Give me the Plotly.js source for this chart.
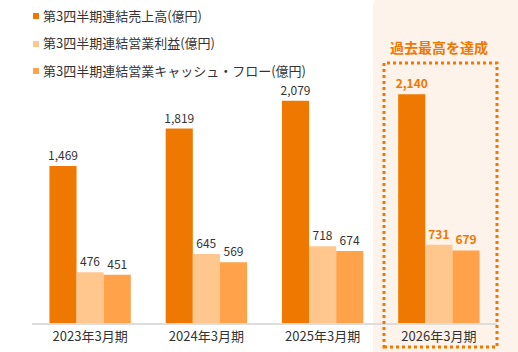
<!DOCTYPE html>
<html><head><meta charset="utf-8">
<script src="https://cdn.plot.ly/plotly-3.0.1.min.js"></script>
<style>html,body{margin:0;padding:0;background:#fff;}#chart{width:518px;height:352px;}</style>
</head><body><div id="chart"></div>
<script>
const categories = ['2023年3月期','2024年3月期','2025年3月期','2026年3月期'];
const seriesNames = ['第3四半期連結売上高(億円)','第3四半期連結営業利益(億円)','第3四半期連結営業キャッシュ・フロー(億円)'];
const sales = [1469, 1819, 2079, 2140];
const operatingProfit = [476, 645, 718, 731];
const operatingCashFlow = [451, 569, 674, 679];
const seriesColors = ['#EE7800','#FFC68E','#FFA24A'];
const highlightText = '過去最高を達成';

const FONT = '"Noto Sans CJK JP", "Noto Sans", sans-serif';
const ORANGE = '#EE7800';
const lastIdx = categories.length - 1;
const labelColors = categories.map((c,i)=> i===lastIdx ? ORANGE : '#333333');
const labelWeights = categories.map((c,i)=> i===lastIdx ? 600 : 400);

const seriesValues = [sales, operatingProfit, operatingCashFlow];
const traces = seriesValues.map((vals, k) => ({
  type: 'bar',
  name: seriesNames[k],
  x: categories,
  y: vals,
  marker: {color: seriesColors[k], line: {width: 0}},
  text: vals.map(v => v.toLocaleString('en-US')),
  textposition: 'outside',
  constraintext: 'none',
  textfont: {family: FONT, size: 12, color: labelColors, weight: labelWeights},
  cliponaxis: false,
  hoverinfo: 'skip'
}));

// plot area geometry (pixels)
const W = 518, H = 352, ML = 32, MR = 21, MT = 40, MB = 29;
const PW = W - ML - MR, PH = H - MT - MB;
const px = x => (x - ML) / PW;
const py = y => (H - MB - y) / PH;

const shapes = [];
// highlight panel with rounded top-left corner
const r = 10;
const x0 = px(373), x1 = px(520), y0 = py(356), y1 = py(-4);
const rx = r / PW, ry = r / PH;
shapes.push({
  type: 'path', xref: 'paper', yref: 'paper', layer: 'below',
  path: `M ${x0},${y0} L ${x0},${y1 - ry} Q ${x0},${y1} ${x0 + rx},${y1} L ${x1},${y1} L ${x1},${y0} Z`,
  fillcolor: '#FEF3EA', line: {width: 0}
});
// dotted highlight box
shapes.push({
  type: 'rect', xref: 'paper', yref: 'paper', layer: 'above',
  x0: px(384), x1: px(497), y0: py(347), y1: py(63),
  line: {color: ORANGE, width: 3, dash: '3px,3px'}, fillcolor: 'rgba(0,0,0,0)'
});

const annotations = [];
annotations.push({
  xref: 'paper', yref: 'paper', x: px(439), y: py(47), xanchor: 'center', yanchor: 'middle',
  text: highlightText, showarrow: false,
  font: {family: FONT, size: 14, color: ORANGE, weight: 700}
});
// custom legend
const legendRows = [15, 43, 70];
seriesNames.forEach((n, k) => {
  shapes.push({
    type: 'rect', xref: 'paper', yref: 'paper',
    x0: px(33), x1: px(39), y0: py(legendRows[k] + 4), y1: py(legendRows[k] - 2),
    fillcolor: seriesColors[k], line: {width: 0}
  });
  annotations.push({
    xref: 'paper', yref: 'paper', x: px(41), y: py(legendRows[k]), xanchor: 'left', yanchor: 'middle',
    text: n, showarrow: false,
    font: {family: FONT, size: 13, color: '#333333'}
  });
});

const layout = {
  width: W, height: H,
  margin: {l: ML, r: MR, t: MT, b: MB, pad: 0},
  paper_bgcolor: 'rgba(0,0,0,0)', plot_bgcolor: 'rgba(0,0,0,0)',
  barmode: 'group', bargap: 0.30, bargroupgap: 0,
  showlegend: false,
  font: {family: FONT, color: '#333333'},
  xaxis: {
    type: 'category', range: [-0.5, 3.5],
    showline: true, linecolor: '#DDDDDD', linewidth: 2,
    ticks: '', showgrid: false, zeroline: false,
    tickfont: {family: FONT, size: 13, color: '#333333'}
  },
  yaxis: {
    range: [0, PH / (157 / 1469)], visible: false, showgrid: false, zeroline: false
  },
  shapes: shapes,
  annotations: annotations
};

Plotly.newPlot('chart', traces, layout, {staticPlot: true, displayModeBar: false});
</script>
</body></html>
